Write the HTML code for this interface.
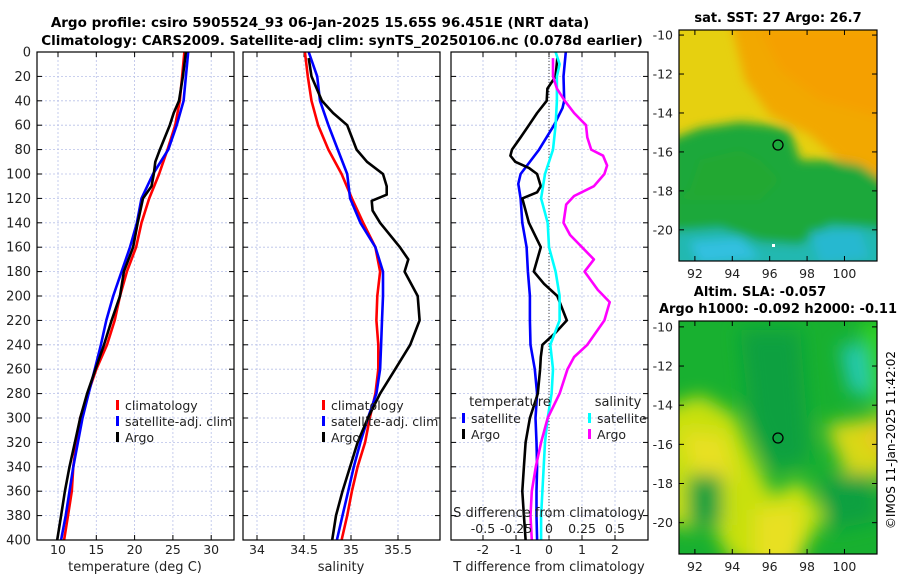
<!DOCTYPE html>
<html><head><meta charset="utf-8">
<style>
body{margin:0;background:#fff;}
svg{display:block;font-family:"DejaVu Sans","Liberation Sans",sans-serif;}
</style></head>
<body>
<svg id="fig" width="900" height="580" viewBox="0 0 900 580">
<defs>
<filter id="blur1" x="-20%" y="-20%" width="140%" height="140%"><feGaussianBlur stdDeviation="5"/></filter>
<filter id="blur2" x="-20%" y="-20%" width="140%" height="140%"><feGaussianBlur stdDeviation="9"/></filter>
<clipPath id="clipTop"><rect x="679" y="30" width="198" height="231"/></clipPath>
<clipPath id="clipBot"><rect x="679" y="321" width="198" height="233"/></clipPath>
</defs>
<text x="320" y="27" text-anchor="middle" font-size="13.5" font-weight="bold">Argo profile: csiro 5905524_93 06-Jan-2025 15.65S 96.451E (NRT data)</text>
<text x="342" y="45" text-anchor="middle" font-size="13.5" font-weight="bold">Climatology: CARS2009. Satellite-adj clim: synTS_20250106.nc (0.078d earlier)</text>

<!-- Top map -->
<g>
<g clip-path="url(#clipTop)">
<rect x="679" y="30" width="198" height="231" fill="#e6d010"/>
<g filter="url(#blur1)">
<polygon points="730,20 890,20 890,195 850,170 810,135 770,115 745,80" fill="#f2a800"/>
<polygon points="760,30 890,30 890,120 820,100 780,70" fill="#f5a000"/>
<polygon points="670,140 700,128 740,122 770,125 790,130 800,160 830,160 860,165 890,185 890,270 670,270" fill="#1aa83a"/>
<polygon points="670,200 690,190 700,160 740,150 760,160 780,180 760,200 720,200" fill="#22a830"/>
<polygon points="670,232 720,228 760,242 800,245 830,225 870,228 890,232 890,270 670,270" fill="#20b8b0"/>
<polygon points="690,242 740,238 760,258 700,264" fill="#30c0e0"/>
<polygon points="810,232 860,230 870,258 820,264" fill="#28b8d0"/>
</g>
</g>
<rect x="679" y="30" width="198" height="231" fill="none" stroke="#000" stroke-width="1.2"/>
<circle cx="778" cy="145" r="5" fill="none" stroke="#000" stroke-width="1.3"/>
<rect x="772" y="244" width="3" height="3" fill="#fff"/>
<text x="778" y="22" text-anchor="middle" font-size="13" font-weight="bold">sat. SST: 27 Argo: 26.7</text>
</g>

<!-- Bottom map -->
<g>
<g clip-path="url(#clipBot)">
<rect x="679" y="321" width="198" height="233" fill="#18b030"/>
<g filter="url(#blur2)">
<polygon points="660,410 700,395 735,415 755,460 772,495 800,480 825,515 795,565 760,570 730,560 710,520 690,530 660,520" fill="#c8e010"/>
<polygon points="680,430 725,435 735,480 700,495" fill="#e8e020"/>
<polygon points="755,510 800,505 800,570 755,570" fill="#e8e020"/>
<polygon points="825,425 890,415 890,475 850,485" fill="#d8d818"/>
<polygon points="860,432 890,428 890,462" fill="#f0c020"/>
<polygon points="840,345 890,345 890,400 850,392" fill="#20c8b8"/>
<polygon points="688,475 722,475 722,525 688,525" fill="#10a040"/>
<polygon points="820,480 870,472 880,520 830,530" fill="#10a040"/>
<polygon points="740,330 800,330 810,460 770,470 750,420" fill="#10a040"/>
<polygon points="860,321 890,321 890,420 870,400" fill="#30d020"/>
</g>
</g>
<rect x="679" y="321" width="198" height="233" fill="none" stroke="#000" stroke-width="1.2"/>
<circle cx="778" cy="438" r="5" fill="none" stroke="#000" stroke-width="1.3"/>
<text x="760" y="296" text-anchor="middle" font-size="13" font-weight="bold">Altim. SLA: -0.057</text>
<text x="778" y="313" text-anchor="middle" font-size="13" font-weight="bold">Argo h1000: -0.092 h2000: -0.11</text>
</g>
<text transform="translate(895,440) rotate(-90)" text-anchor="middle" font-size="12">©IMOS 11-Jan-2025 11:42:02</text>
<g id="plots"></g>
</svg>
<script>
// ---- data ----
const depthsT = [0,20,40,60,80,100,120,140,160,180,200,220,240,260,280,300,320,340,360,380,400];
const tempClim = [26.5,26.2,25.9,25.3,24.3,23.2,21.9,20.9,20.2,19.0,18.1,17.4,16.4,15.0,13.9,12.9,12.4,12.0,11.8,11.3,10.8];
const tempSat  = [27.0,26.7,26.4,25.5,24.4,22.4,20.9,20.3,19.4,18.3,17.2,16.3,15.6,14.8,14.0,13.2,12.6,12.0,11.5,11.0,10.4];
const depthsArgoT = [0,20,40,50,60,80,90,100,110,120,140,160,180,200,220,240,260,280,300,320,340,360,380,400];
const tempArgo = [26.7,26.3,25.8,25.1,24.6,23.3,22.7,22.5,22.2,21.1,20.4,19.8,18.6,18.1,17.0,16.0,14.9,13.8,12.9,12.2,11.5,10.9,10.4,9.9];

const depthsS = [0,20,40,60,80,100,120,140,160,180,200,220,240,260,280,300,320,340,360,380,400];
const salClim = [34.51,34.54,34.58,34.65,34.76,34.90,35.01,35.13,35.26,35.31,35.28,35.27,35.29,35.29,35.26,35.20,35.15,35.07,35.01,34.96,34.90];
const salSat  = [34.55,34.64,34.67,34.76,34.86,34.96,34.99,35.10,35.26,35.34,35.34,35.33,35.32,35.31,35.27,35.18,35.10,35.03,34.97,34.91,34.85];
const depthsArgoS = [5,20,40,50,60,80,90,100,110,117,122,130,140,160,170,180,200,220,240,260,280,300,320,340,360,380,400];
const salArgo = [34.55,34.58,34.69,34.81,34.96,35.06,35.17,35.34,35.38,35.38,35.22,35.23,35.31,35.52,35.61,35.57,35.71,35.73,35.63,35.47,35.31,35.18,35.07,34.99,34.91,34.84,34.80];

const depthsDT = [0,20,40,46,60,80,100,108,120,140,160,180,200,220,240,260,280,300,320,340,360,380,400];
const dTsat = [0.51,0.44,0.46,0.41,0.15,-0.3,-0.86,-0.93,-0.86,-0.81,-0.68,-0.64,-0.58,-0.58,-0.56,-0.43,-0.36,-0.41,-0.38,-0.36,-0.38,-0.38,-0.36];
const depthsDTA = [5,20,30,40,50,60,70,80,85,90,95,100,110,115,120,140,160,180,190,200,220,230,240,250,260,280,300,320,340,360,380,400];
const dTargo = [0.25,0.2,-0.05,-0.07,-0.36,-0.61,-0.86,-1.12,-1.17,-1.02,-0.61,-0.36,-0.25,-0.36,-0.81,-0.61,-0.25,-0.46,-0.15,0.25,0.54,0.2,-0.2,-0.25,-0.27,-0.34,-0.58,-0.71,-0.76,-0.81,-0.76,-0.71];
const depthsDS = [0,10,20,40,60,80,100,120,140,160,180,200,220,240,260,280,300,320,340,360,380,400];
const dSsat = [0.05,0.08,0.06,0.06,0.05,0.03,-0.03,-0.06,-0.01,0,0.05,0.08,0.08,0.01,0.03,0.02,-0.01,-0.03,-0.04,-0.05,-0.06,-0.06];
const depthsDSA = [5,20,30,40,50,60,70,80,85,93,100,110,118,125,140,150,170,180,195,205,220,240,250,260,280,300,320,340,360,380,400];
const dSargo = [0.03,0.03,0.06,0.12,0.19,0.28,0.29,0.32,0.41,0.44,0.42,0.34,0.19,0.13,0.11,0.16,0.34,0.27,0.37,0.46,0.42,0.29,0.19,0.14,0.08,-0.01,-0.06,-0.1,-0.13,-0.14,-0.13];

const depthTicks = [0,20,40,60,80,100,120,140,160,180,200,220,240,260,280,300,320,340,360,380,400];
const tempTicks = [10,15,20,25,30];
const salTicks = [34,34.5,35,35.5];
const dTTicks = [-2,-1,0,1,2];
const dSTicks = [-0.5,-0.25,0,0.25,0.5];
const latTicks = [-10,-12,-14,-16,-18,-20];
const lonTicks = [92,94,96,98,100];

// ---- drawing ----
const NS='http://www.w3.org/2000/svg';
const root=document.getElementById('plots');
function mk(tag,attrs,parent){const e=document.createElementNS(NS,tag);for(const k in attrs)e.setAttribute(k,attrs[k]);(parent||root).appendChild(e);return e;}
const Y0=52,Y1=540;
function yD(d){return Y0+(d/400)*(Y1-Y0);}
function lin(d0,d1,r0,r1){return v=>r0+(v-d0)/(d1-d0)*(r1-r0);}

function panel(name,x0,x1,xs,ticks,tickFmt,showY){
  const g=mk('g',{});
  
  
  ticks.forEach(t=>{const x=xs(t);mk('line',{x1:x,x2:x,y1:Y0,y2:Y1,stroke:'#b8c0e8','stroke-width':0.8,'stroke-dasharray':'2,2'},g);});
  depthTicks.forEach(d=>{const y=yD(d);mk('line',{x1:x0,x2:x1,y1:y,y2:y,stroke:'#b8c0e8','stroke-width':0.8,'stroke-dasharray':'2,2'},g);
    mk('line',{x1:x0,x2:x0+5,y1:y,y2:y,stroke:'#000'},g);mk('line',{x1:x1-5,x2:x1,y1:y,y2:y,stroke:'#000'},g);
    if(showY){const t=mk('text',{x:x0-6,y:y+4.5,'text-anchor':'end','font-size':13,fill:'#222'},g);t.textContent=d;}});
  if(tickFmt) ticks.forEach(t=>{const x=xs(t);mk('line',{x1:x,x2:x,y1:Y1,y2:Y1-5,stroke:'#000'},g);mk('line',{x1:x,x2:x,y1:Y0,y2:Y0+5,stroke:'#000'},g);
    const tx=mk('text',{x:x,y:Y1+14,'text-anchor':'middle','font-size':12.5,fill:'#222'},g);tx.textContent=tickFmt(t);});
  return g;
}
function line(g,name,xs,vals,deps,color,w){
  const p=vals.map((v,i)=>xs(v).toFixed(1)+','+yD(deps[i]).toFixed(1)).join(' ');
  const e=mk('polyline',{points:p,fill:'none',stroke:color,'stroke-width':w||2.6,'stroke-linejoin':'round'},g);
  
  
}
function frame(g,x0,x1){mk('rect',{x:x0,y:Y0,width:x1-x0,height:Y1-Y0,fill:'none',stroke:'#000','stroke-width':1.2},g);}
function legend(g,x,y,items,prefix){items.forEach((it,i)=>{const yy=y+i*16;mk('rect',{x:x,y:yy-9,width:3,height:10,fill:it[1]},g);
  const t=mk('text',{x:x+9,y:yy+1,'font-size':12.5,fill:'#222'},g);t.textContent=it[0];
  
  });}
function label(g,x,y,txt,name){const t=mk('text',{x:x,y:y,'text-anchor':'middle','font-size':13,fill:'#222'},g);t.textContent=txt;
  
  }

// Panel 1
const xT=lin(10,30,58,211.2);
let g1=panel('temperature-panel',37,234,xT,tempTicks,t=>t,true);
line(g1,'temp-climatology-line',xT,tempClim,depthsT,'#f00');
line(g1,'temp-satellite-line',xT,tempSat,depthsT,'#00f');
line(g1,'temp-argo-line',xT,tempArgo,depthsArgoT,'#000');
frame(g1,37,234);
legend(g1,116,409,[['climatology','#f00'],['satellite-adj. clim','#00f'],['Argo','#000']],'temp');
label(g1,135,571,'temperature (deg C)','temp-x-axis-title');

// Panel 2
const xS=lin(34,35.5,257,398);
let g2=panel('salinity-panel',243,440,xS,salTicks,t=>t,false);
line(g2,'sal-climatology-line',xS,salClim,depthsS,'#f00');
line(g2,'sal-satellite-line',xS,salSat,depthsS,'#00f');
line(g2,'sal-argo-line',xS,salArgo,depthsArgoS,'#000');
frame(g2,243,440);
legend(g2,322,409,[['climatology','#f00'],['satellite-adj. clim','#00f'],['Argo','#000']],'sal');
label(g2,341,571,'salinity','sal-x-axis-title');

// Panel 3
const xDT=lin(-2,2,483,615);
const xDS=lin(-0.5,0.5,483,615);
let g3=panel('difference-panel',451,648,xDT,dTTicks,t=>t,false);
mk('line',{x1:xDT(0),x2:xDT(0),y1:Y0,y2:Y1,stroke:'#444','stroke-width':1,'stroke-dasharray':'1,2'},g3);
line(g3,'dT-satellite-line',xDT,dTsat,depthsDT,'#00f');
line(g3,'dT-argo-line',xDT,dTargo,depthsDTA,'#000');
line(g3,'dS-satellite-line',xDS,dSsat,depthsDS,'#0ff');
line(g3,'dS-argo-line',xDS,dSargo,depthsDSA,'#f0f');
frame(g3,451,648);
label(g3,510,406,'temperature','diff-legend-temp-heading');
label(g3,618,406,'salinity','diff-legend-sal-heading');
legend(g3,462,422,[['satellite','#00f'],['Argo','#000']],'diff-temp');
legend(g3,588,422,[['satellite','#0ff'],['Argo','#f0f']],'diff-sal');
label(g3,549,517,'S difference from climatology','s-diff-axis-title');
dSTicks.forEach(t=>{const tx=mk('text',{x:xDS(t),y:533,'text-anchor':'middle','font-size':12.5,fill:'#222'},g3);tx.textContent=t;});
label(g3,549,571,'T difference from climatology','t-diff-axis-title');

// map axes
const lonX=lin(91.15,101.74,679,877);
function mapAxes(name,top,bot,latTop,latBot){
  const g=mk('g',{});
  
  
  const yl=lin(latTop,latBot,top,bot);
  latTicks.forEach(l=>{const y=yl(l);mk('line',{x1:679,x2:684,y1:y,y2:y,stroke:'#000'},g);mk('line',{x1:872,x2:877,y1:y,y2:y,stroke:'#000'},g);
    const t=mk('text',{x:673,y:y+4.5,'text-anchor':'end','font-size':12.5,fill:'#222'},g);t.textContent=l;});
  lonTicks.forEach(l=>{const x=lonX(l);mk('line',{x1:x,x2:x,y1:bot,y2:bot-5,stroke:'#000'},g);mk('line',{x1:x,x2:x,y1:top,y2:top+5,stroke:'#000'},g);
    const t=mk('text',{x:x,y:bot+17,'text-anchor':'middle','font-size':12.5,fill:'#222'},g);t.textContent=l;});
}
mapAxes('sst-map-axes',30,261,-9.74,-21.6);
mapAxes('sla-map-axes',321,554,-9.7,-21.6);
</script>
</body></html>
